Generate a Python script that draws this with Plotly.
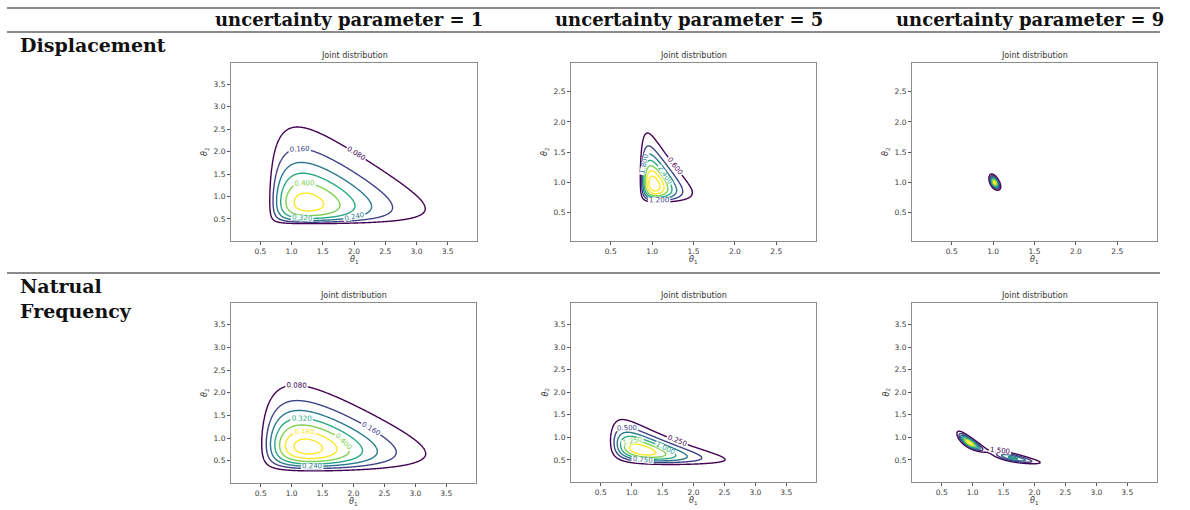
import numpy as np
import plotly.graph_objects as go

W, H = 1190, 510

# ---------------------------------------------------------------- labels
UNCERTAINTY = [1, 5, 9]
HEADERS = [f"uncertainty parameter = {u}" for u in UNCERTAINTY]
HEADER_X = [349, 689, 1030]
ROW_LABELS = ["Displacement", "Natrual<br>Frequency"]

# ---------------------------------------------------------------- contour levels (row-major panels)
LEVEL_START = [0.08, 0.6, 10.0, 0.08, 0.25, 1.5]
LEVEL_STEP = [0.08, 0.6, 10.0, 0.08, 0.25, 1.5]
LEVEL_COUNT = [6, 7, 8, 7, 6, 7]
PEAK_DENSITY = [0.52, 4.7, 85.0, 0.60, 1.70, 11.5]
SHOW_LABELS = [True, True, False, True, True, True]

# ---------------------------------------------------------------- axis extents
X_RANGE = [(0.03, 3.97), (0.02, 2.98), (0.02, 2.98), (0.02, 3.98), (0.02, 3.98), (0.02, 3.98)]
Y_RANGE = [(0.01, 3.97), (0.02, 2.98), (0.02, 2.98), (0.01, 3.98), (0.01, 3.98), (0.01, 3.98)]
TICKS_WIDE = [0.5, 1.0, 1.5, 2.0, 2.5, 3.0, 3.5]
TICKS_NARROW = [0.5, 1.0, 1.5, 2.0, 2.5]
PANEL_TICKS = [TICKS_WIDE, TICKS_NARROW, TICKS_NARROW, TICKS_WIDE, TICKS_WIDE, TICKS_WIDE]

# evaluation window for each density grid
GRID_X = [(0.55, 3.9), (0.78, 1.9), (0.85, 1.2), (0.35, 3.9), (0.5, 3.4), (0.6, 2.6)]
GRID_Y = [(0.33, 3.6), (0.58, 2.3), (0.75, 1.25), (0.15, 3.2), (0.24, 2.2), (0.25, 1.4)]
GRID_N = [360, 360, 260, 360, 400, 520]

# ---------------------------------------------------------------- density model parameters
# shifted-gamma part: mode, lower bound, rates, coupling
GAMMA_MODE = [(1.25, 0.85), (1.02, 0.96), None, (1.25, 0.80), (1.15, 0.72), None]
GAMMA_FLOOR = [(0.59, 0.37), (0.83, 0.62), None, (0.38, 0.18), (0.52, 0.25), None]
GAMMA_RATE = [(1.75, 1.75), (7.5, 4.0), None, (2.0, 2.8), (1.76, 6.5), None]
GAMMA_COUPLING = [0.35, 8.0, None, 0.5, 6.3, None]
# blobs along the curve log(theta1) + slope*log(theta2) = offset
RIDGE_SLOPE = [None, None, 1.03, None, None, 1.15]
RIDGE_OFFSET = [None, None, 0.0075, None, None, -0.2]
BLOB_CENTER = [None, None, [1.018], None, None, [0.95, 1.65]]      # theta1 position
BLOB_SPREAD = [None, None, [0.034], None, None, [0.12, 0.14]]      # along the curve (log theta1)
BLOB_WIDTH = [None, None, [0.059], None, None, [0.085, 0.12]]      # across the curve
BLOB_WEIGHT = [None, None, [1.0], None, None, [1.0, 0.55]]

# ---------------------------------------------------------------- panel boxes in pixels (left, right, top, bottom)
BOX = [(231, 477, 63, 241), (571, 816, 63, 241), (912, 1157, 63, 241),
       (231, 476, 303, 483), (571, 816, 303, 482), (912, 1157, 303, 482)]


def gamma_log(x, y, mode, floor, rate, coupling):
    a = mode[0] - floor[0]
    b = mode[1] - floor[1]
    xs = x - floor[0]
    ys = y - floor[1]
    alpha = a * (rate[0] + coupling * b)
    beta = b * (rate[1] + coupling * a)
    ok = (xs > 0) & (ys > 0)
    xs = np.where(ok, xs, 1.0)
    ys = np.where(ok, ys, 1.0)
    val = (alpha * np.log(xs / a) - rate[0] * (xs - a)
           + beta * np.log(ys / b) - rate[1] * (ys - b)
           - coupling * (xs * ys - a * b))
    return np.where(ok, val, -np.inf)


def blobs_log(x, y, slope, offset, centers, spreads, widths, weights):
    s = np.log(x)
    p = s + slope * np.log(y) - offset
    tot = np.zeros_like(x)
    for c, sd, wd, w in zip(centers, spreads, widths, weights):
        tot += w * np.exp(-0.5 * (((s - np.log(c)) / sd) ** 2 + (p / wd) ** 2))
    return np.log(tot + 1e-300)


def panel_density(i):
    gx = np.linspace(*GRID_X[i], GRID_N[i])
    gy = np.linspace(*GRID_Y[i], GRID_N[i])
    X, Y = np.meshgrid(gx, gy)
    L = np.zeros_like(X)
    if GAMMA_MODE[i] is not None:
        L += gamma_log(X, Y, GAMMA_MODE[i], GAMMA_FLOOR[i], GAMMA_RATE[i], GAMMA_COUPLING[i])
    if BLOB_CENTER[i] is not None:
        L += blobs_log(X, Y, RIDGE_SLOPE[i], RIDGE_OFFSET[i], BLOB_CENTER[i],
                       BLOB_SPREAD[i], BLOB_WIDTH[i], BLOB_WEIGHT[i])
    z = PEAK_DENSITY[i] * np.exp(L - np.max(L[np.isfinite(L)]))
    z = np.where(np.isfinite(z), z, 0.0)
    return gx, gy, z


fig = go.Figure()
layout = dict(
    width=W, height=H, margin=dict(l=0, r=0, t=0, b=0),
    paper_bgcolor="white", plot_bgcolor="white", showlegend=False,
)

annotations = []
shapes = []
tick_font = dict(family="DejaVu Sans", size=7.5, color="#3a3a3a")
small_font = dict(family="DejaVu Sans", size=8, color="#333333")


def note(text, px, py, font, **kw):
    annotations.append(dict(text=text, x=px / W, y=1 - py / H, xref="paper", yref="paper",
                            showarrow=False, xanchor=kw.pop("xanchor", "center"),
                            yanchor="middle", font=font, **kw))


for i in range(6):
    left, right, top, bottom = BOX[i]
    xa = "x" if i == 0 else f"x{i + 1}"
    ya = "y" if i == 0 else f"y{i + 1}"
    xkey = "xaxis" if i == 0 else f"xaxis{i + 1}"
    ykey = "yaxis" if i == 0 else f"yaxis{i + 1}"

    gx, gy, z = panel_density(i)
    start = LEVEL_START[i]
    end = start + LEVEL_STEP[i] * (LEVEL_COUNT[i] - 1)
    fig.add_trace(go.Contour(
        x=gx, y=gy, z=z, xaxis=xa, yaxis=ya,
        colorscale="Viridis", zauto=False, zmin=start, zmax=end, showscale=False,
        contours=dict(coloring="lines", start=start, end=end, size=LEVEL_STEP[i],
                      showlabels=SHOW_LABELS[i], labelformat=".3f",
                      labelfont=dict(family="DejaVu Sans", size=7)),
        line=dict(width=1.4), hoverinfo="skip",
    ))

    ticks = PANEL_TICKS[i]
    common = dict(showgrid=False, zeroline=False, showline=True, mirror=True,
                  linecolor="#8c8c8c", linewidth=1, ticks="outside", ticklen=3,
                  tickwidth=1, tickcolor="#555555", tickfont=tick_font,
                  tickvals=ticks, ticktext=[f"{t:.1f}" for t in ticks])
    layout[xkey] = dict(common, domain=[left / W, right / W], range=list(X_RANGE[i]), anchor=ya)
    layout[ykey] = dict(common, domain=[1 - bottom / H, 1 - top / H], range=list(Y_RANGE[i]), anchor=xa)

    cx = (left + right) / 2
    note("Joint distribution", cx, top - 8, small_font)
    note("<i>θ</i><sub>1</sub>", cx, bottom + 19, small_font)
    note("<i>θ</i><sub>2</sub>", left - 26, (top + bottom) / 2, small_font, textangle=-90)

# column headers and row labels
head_font = dict(family="DejaVu Serif", size=18, color="#111111")
row_font = dict(family="DejaVu Serif", size=19, color="#111111")
for text, hx in zip(HEADERS, HEADER_X):
    note(f"<b>{text}</b>", hx, 20, head_font)
note(f"<b>{ROW_LABELS[0]}</b>", 18, 45, row_font, xanchor="left", align="left")
note(f"<b>{ROW_LABELS[1]}</b>", 18, 298, row_font, xanchor="left", align="left")

# table rules
for ry in [8, 32, 273]:
    shapes.append(dict(type="line", xref="paper", yref="paper", x0=7 / W, x1=1160 / W,
                       y0=1 - ry / H, y1=1 - ry / H, line=dict(color="#8a8a8a", width=2)))

layout["annotations"] = annotations
layout["shapes"] = shapes
fig.update_layout(**layout)
fig.write_html("out.html")
